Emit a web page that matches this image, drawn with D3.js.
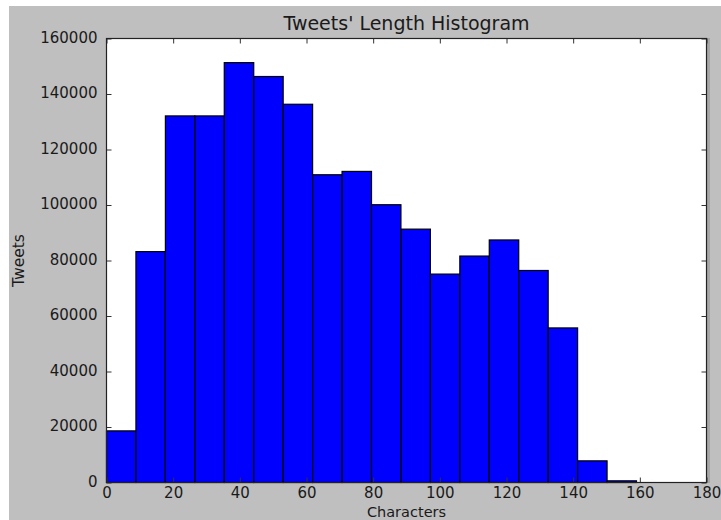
<!DOCTYPE html>
<html>
<head>
<meta charset="utf-8">
<script src="https://cdn.jsdelivr.net/npm/d3@7"></script>
<style>
  html, body { margin: 0; padding: 0; background: #ffffff; }
  svg { display: block; font-family: "DejaVu Sans", sans-serif; }
</style>
</head>
<body>
<svg id="chart" width="721" height="520"></svg>
<script>
// ---- data ----
const binEdges = [0, 8.83, 17.67, 26.5, 35.33, 44.17, 53, 61.83, 70.67, 79.5, 88.33, 97.17, 106, 114.83, 123.67, 132.5, 141.33, 150.17, 159];
const counts = [18600, 83200, 132100, 132100, 151300, 146300, 136300, 110900, 112100, 100100, 91300, 75100, 81600, 87400, 76400, 55700, 7800, 600];
const xTicks = [0, 20, 40, 60, 80, 100, 120, 140, 160, 180];
const yTicks = [0, 20000, 40000, 60000, 80000, 100000, 120000, 140000, 160000];
const titleText = "Tweets' Length Histogram";
const xLabel = "Characters";
const yLabel = "Tweets";

// ---- layout ----
const W = 721, H = 520;
const L = 106.5, R = 706.5, T = 38.5, B = 482.5;

const svg = d3.select("#chart");
svg.append("rect").attr("x", 0).attr("y", 0).attr("width", W).attr("height", H).attr("fill", "#ffffff");
svg.append("rect").attr("x", 9).attr("y", 6).attr("width", W - 9).attr("height", H - 6).attr("fill", "#bfbfbf");

const x = d3.scaleLinear().domain([0, 180]).range([L, R]);
const y = d3.scaleLinear().domain([0, 160000]).range([B, T]);

// plot background
svg.append("rect").attr("x", L).attr("y", T).attr("width", R - L).attr("height", B - T).attr("fill", "#ffffff");
// right-edge shadow strip
svg.append("rect").attr("x", R + 0.5).attr("y", T - 0.5).attr("width", 3).attr("height", B - T + 1).attr("fill", "#a6a6a6");

// bars
const bins = counts.map((c, i) => ({ x0: binEdges[i], x1: binEdges[i + 1], c }));
svg.append("g").selectAll("rect").data(bins).join("rect")
  .attr("x", d => x(d.x0))
  .attr("y", d => y(d.c))
  .attr("width", d => x(d.x1) - x(d.x0))
  .attr("height", d => y(0) - y(d.c))
  .attr("fill", "#0000ff")
  .attr("stroke", "#000000")
  .attr("stroke-width", 1.2);

// axes
const fs = "15px";
const axB = svg.append("g").attr("transform", `translate(0,${B})`)
  .call(d3.axisBottom(x).tickValues(xTicks).tickFormat(d3.format("d")).tickSize(-5).tickPadding(5));
const axL = svg.append("g").attr("transform", `translate(${L},0)`)
  .call(d3.axisLeft(y).tickValues(yTicks).tickFormat(d3.format("d")).tickSize(-5).tickPadding(9));
const axT = svg.append("g").attr("transform", `translate(0,${T})`)
  .call(d3.axisTop(x).tickValues(xTicks).tickFormat("").tickSize(-5));
const axR = svg.append("g").attr("transform", `translate(${R},0)`)
  .call(d3.axisRight(y).tickValues(yTicks).tickFormat("").tickSize(-5));

[axB, axL, axT, axR].forEach(g => {
  g.select(".domain").remove();
  g.selectAll(".tick line").attr("stroke", "#333333").attr("stroke-width", 1);
  g.selectAll(".tick text").attr("fill", "#1a1a1a").style("font-size", fs).style("font-family", "DejaVu Sans");
});
axL.selectAll(".tick text").attr("dy", "0.25em");

// frame
svg.append("rect").attr("x", L).attr("y", T).attr("width", R - L).attr("height", B - T)
  .attr("fill", "none").attr("stroke", "#222222").attr("stroke-width", 1.2);

// title & labels
svg.append("text").attr("x", (L + R) / 2).attr("y", 30).attr("text-anchor", "middle")
  .attr("fill", "#1a1a1a").style("font-size", "19px").text(titleText);
svg.append("text").attr("x", (L + R) / 2).attr("y", 516.5).attr("text-anchor", "middle")
  .attr("fill", "#1a1a1a").style("font-size", "14.5px").text(xLabel);
svg.append("text").attr("transform", `translate(24,${(T + B) / 2}) rotate(-90)`).attr("text-anchor", "middle")
  .attr("fill", "#1a1a1a").style("font-size", "15.5px").text(yLabel);
</script>
</body>
</html>
